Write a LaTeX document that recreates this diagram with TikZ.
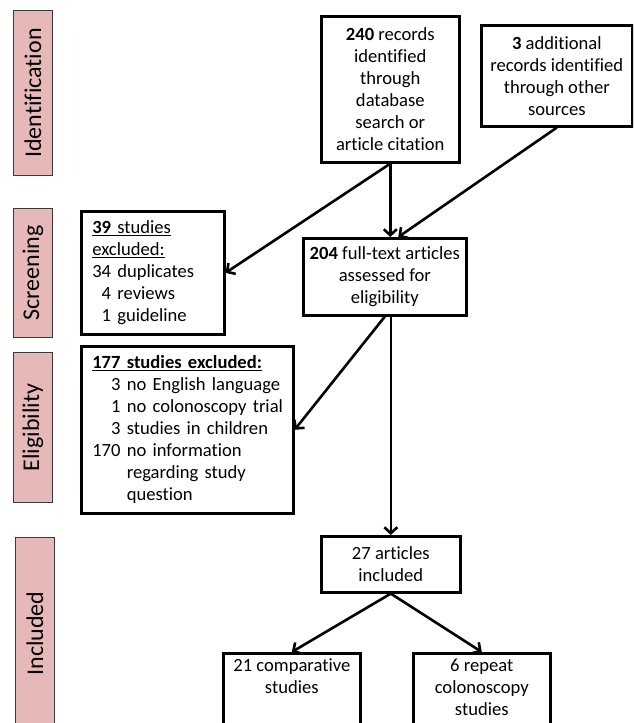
\documentclass[tikz,border=0pt]{standalone}
\usepackage{fontspec}
\setmainfont{Carlito}[Ligatures=CommonOff]
\usetikzlibrary{arrows.meta,calc}
\definecolor{labfill}{HTML}{E6B9B8}
\definecolor{labdraw}{HTML}{3A3A3A}
\begin{document}
\begin{tikzpicture}[x=1pt,y=-1pt,
  box/.style={draw=black, line width=2.6pt, inner sep=0pt, anchor=north west,
    font=\fontsize{18.6}{22}\selectfont},
  boxtext/.style={inner sep=0pt, anchor=north, align=center,
    font=\fontsize{18.6}{22}\selectfont},
  phase/.style={draw=labdraw, fill=labfill, line width=0.9pt, inner sep=0pt,
    anchor=north west, minimum width=39pt},
  phasetext/.style={rotate=90, inner sep=0pt, font=\fontsize{24}{28}\selectfont},
  arr/.style={line width=2.6pt, -{Straight Barb[length=6pt,width=13pt]}},
]
\clip (0,0) rectangle (633,723);

% phase labels
\node[phase, minimum height=165pt] (pid) at (13,10) {};
\node[phasetext] (tid) at (pid.center) {Identification};
\node[phase, minimum height=129pt] (pscr) at (13,208) {};
\node[phasetext] (tscr) at (pscr.center) {Screening};
\node[phase, minimum height=150pt] (pel) at (13,352) {};
\node[phasetext] (tel) at (pel.center) {Eligibility};
\node[phase, minimum height=192pt] (pinc) at (15,537) {};
\node[phasetext] (tinc) at (pinc.center) {Included};

% boxes
\node[box, minimum width=138pt, minimum height=146pt, align=center] (b240) at (320,15)
  {\textbf{240} records\\identified\\through\\database\\search or\\article citation};
\node[box, minimum width=151pt, minimum height=101pt, align=center] (b3) at (480,24)
  {\textbf{3} additional\\records identified\\through other\\sources};
\node[box, minimum width=143pt, minimum height=123pt, inner xsep=11pt,
  text width=121pt, align=left] (b39) at (80,210)
  {\underline{\textbf{39} studies}\\\underline{excluded:}\\34 duplicates\\\hphantom{3}4 reviews\\\hphantom{3}1 guideline};
\node[box, minimum width=163pt, minimum height=77pt, align=center] (b204) at (302,237)
  {\textbf{204} full-text articles\\assessed for\\eligibility};
\node[box, minimum width=212pt, minimum height=167pt, inner xsep=11pt,
  text width=190pt, align=left] (b177) at (80,345)
  {\begin{tabular}{@{}r@{\ }l@{}}
   \multicolumn{2}{@{}l@{}}{\underline{\textbf{177 studies excluded:}}}\\
   3 & no English language\\
   1 & no colonoscopy trial\\
   3 & studies in children\\
   170 & no information\\
   & regarding study\\
   & question
   \end{tabular}};
\node[box, minimum width=139pt, minimum height=56pt, align=center] (b27) at (320,535)
  {27 articles\\included};
\node[box, minimum width=137pt, minimum height=100pt] (b21) at (222,652) {};
\node[boxtext] (t21) at ($(b21.north)+(0,6.5)$) {21 comparative\\studies};
\node[box, minimum width=137pt, minimum height=100pt] (b6) at (412,652) {};
\node[boxtext] (t6) at ($(b6.north)+(0,6.5)$) {6 repeat\\colonoscopy\\studies};

% connectors
\draw[arr] (b240.south) -- (b240.south |- b204.north);
\draw[arr] (b240.south) -- (b39.east);
\draw[arr] (b3.south) -- ($(b240.south |- b204.north)+(8,0)$);
\draw[arr] (b204.south) -- (b177.east);
\draw[arr] (b27.north |- b204.south) -- (b27.north);
\draw[arr] (b27.south) -- (b21.north);
\draw[arr] (b27.south) -- (b6.north);
\end{tikzpicture}
\end{document}
